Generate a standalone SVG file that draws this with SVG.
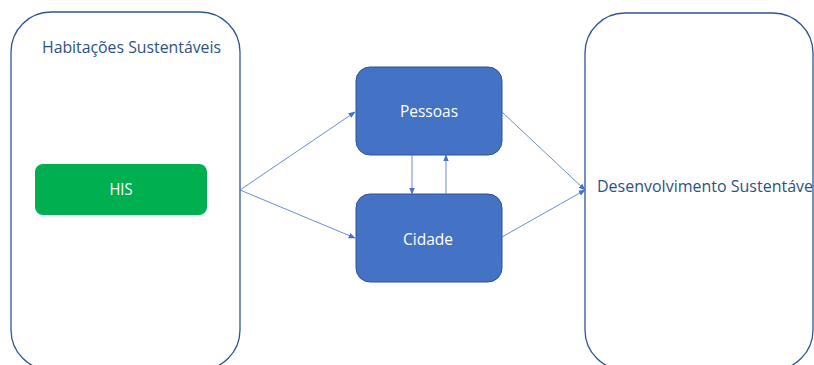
<svg xmlns="http://www.w3.org/2000/svg" width="814" height="365" viewBox="0 0 814 365">
  <style>
    .frame { fill: #ffffff; stroke: #2F5597; stroke-width: 1.3; }
    .frame-label { font-family: "Open Sans", "Liberation Sans", sans-serif; font-size: 15.5px; fill: #2B5285; }
    .box { fill: #4472C4; stroke: #2F528F; stroke-width: 1; }
    .his { fill: #00B050; stroke: none; }
    .box-label { font-family: "Open Sans", "Liberation Sans", sans-serif; font-size: 15.5px; fill: #ffffff; text-anchor: middle; }
    .link { stroke: #4472C4; stroke-width: 0.8; fill: none; marker-end: url(#arrow); }
  </style>
  <defs>
    <marker id="arrow" viewBox="0 0 10 10" refX="9" refY="5" markerWidth="7" markerHeight="7" markerUnits="userSpaceOnUse" orient="auto">
      <path d="M0,1 L10,5 L0,9 Z" fill="#4472C4"/>
    </marker>
  </defs>

  <rect width="814" height="365" fill="#ffffff"/>

  <g id="habitacoes">
    <rect class="frame" x="11" y="12" width="229" height="358" rx="40" ry="40"/>
    <text class="frame-label" x="42" y="53" textLength="179" lengthAdjust="spacingAndGlyphs">Habitações Sustentáveis</text>
  </g>

  <g id="desenvolvimento">
    <rect class="frame" x="585" y="13" width="228" height="357" rx="40" ry="40"/>
    <text class="frame-label" x="597" y="192" textLength="216" lengthAdjust="spacingAndGlyphs">Desenvolvimento Sustentáve</text>
  </g>

  <g id="his">
    <rect class="his" x="35" y="164" width="172" height="51" rx="8" ry="8"/>
    <text class="box-label" x="121" y="195" textLength="23" lengthAdjust="spacingAndGlyphs">HIS</text>
  </g>

  <g id="pessoas">
    <rect class="box" x="356" y="67" width="146" height="88" rx="14" ry="14"/>
    <text class="box-label" x="429" y="117" textLength="58" lengthAdjust="spacingAndGlyphs">Pessoas</text>
  </g>

  <g id="cidade">
    <rect class="box" x="356" y="194" width="146" height="88" rx="14" ry="14"/>
    <text class="box-label" x="428" y="245" textLength="50" lengthAdjust="spacingAndGlyphs">Cidade</text>
  </g>

  <g id="connectors">
    <line class="link" x1="240" y1="190" x2="355" y2="112"/>
    <line class="link" x1="240" y1="190" x2="355" y2="238"/>
    <line class="link" x1="502" y1="112" x2="585" y2="190"/>
    <line class="link" x1="502" y1="237" x2="585" y2="190"/>
    <line class="link" x1="412" y1="155" x2="412" y2="194"/>
    <line class="link" x1="446" y1="194" x2="446" y2="155"/>
  </g>
</svg>
